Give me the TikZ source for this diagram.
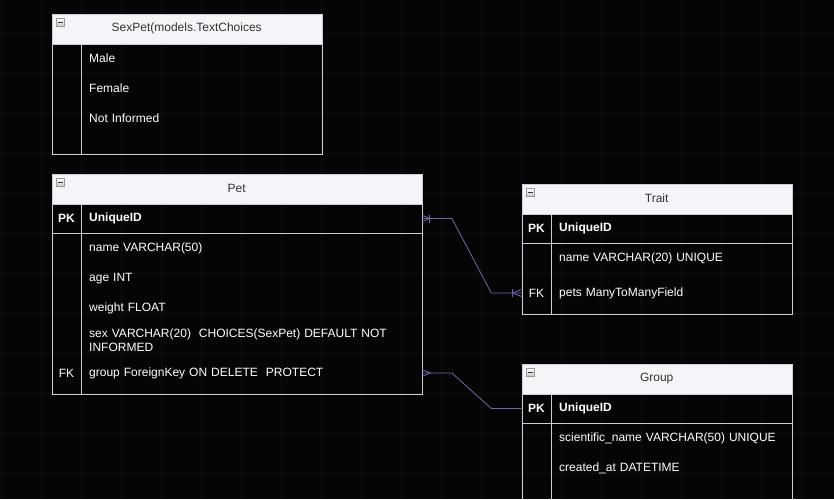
\documentclass[tikz,border=0pt]{standalone}
\usepackage{fontspec}
\setmainfont{Liberation Sans}
\definecolor{bgcol}{RGB}{5,5,5}
\definecolor{gridcol}{RGB}{16,16,16}
\definecolor{edgecol}{RGB}{204,204,218}
\definecolor{headcol}{RGB}{244,245,248}
\definecolor{linkcol}{RGB}{110,104,170}
\begin{document}
\begin{tikzpicture}[x=1pt,y=-1pt,
    header/.style={draw=edgecol,fill=headcol,text=black!80,anchor=north west,minimum height=30pt,inner sep=0pt,font=\fontsize{12}{14}\selectfont},
    body/.style={draw=edgecol,anchor=north west,inner sep=0pt},
    icon/.style={draw=gray!80,top color=white,bottom color=gray!45,minimum size=8pt,inner sep=0pt},
    keycell/.style={text=white,minimum width=30pt,minimum height=30pt,inner sep=0pt,font=\bfseries\fontsize{12}{14}\selectfont},
    fkcell/.style={keycell,font=\fontsize{12}{14}\selectfont},
    field/.style={text=white,anchor=west,inner xsep=7.5pt,inner ysep=0pt,minimum height=30pt,align=left,font=\fontsize{12}{14}\selectfont},
    idfield/.style={field,font=\bfseries\fontsize{12}{14}\selectfont},
    link/.style={linkcol,line width=0.8pt}]
    \fill[bgcol] (0,0) rectangle (834,499);
    \useasboundingbox (0,0) rectangle (834,499);
    \clip (0,0) rectangle (834,499);
    \foreach \gx in {1,41,...,801} \draw[gridcol] (\gx,0) -- (\gx,499);
    \foreach \gy in {33,73,...,473} \draw[gridcol] (0,\gy) -- (834,\gy);

    % SexPet
    \node[header,minimum width=270pt] at (51.5,13.5) (sexhead) {SexPet(models.TextChoices};
    \node[body,minimum width=270pt,minimum height=110pt] at (51.5,43.5) (sexbody) {};
    \node[icon] at ([xshift=9pt,yshift=-9pt]sexhead.north west) (sexicon) {};
    \draw[black!80,line width=1pt] ([xshift=-2.5pt]sexicon.center) -- ([xshift=2.5pt]sexicon.center);
    \draw[edgecol] (81.5,43.5) -- (81.5,153.5);
    \node[field,text width=225pt] at (81.5,58.5) (sexmale) {Male};
    \node[field,text width=225pt] at (81.5,88.5) (sexfemale) {Female};
    \node[field,text width=225pt] at (81.5,118.5) (sexnone) {Not Informed};

    % Pet
    \node[header,minimum width=370pt] at (51.5,173.5) (pethead) {Pet};
    \node[body,minimum width=370pt,minimum height=190pt] at (51.5,203.5) (petbody) {};
    \node[icon] at ([xshift=9pt,yshift=-9pt]pethead.north west) (peticon) {};
    \draw[black!80,line width=1pt] ([xshift=-2.5pt]peticon.center) -- ([xshift=2.5pt]peticon.center);
    \draw[edgecol] (81.5,203.5) -- (81.5,393.5);
    \draw[edgecol] (51.5,233.5) -- (421.5,233.5);
    \node[keycell] at (66.5,218.5) (petpk) {PK};
    \node[idfield,text width=325pt] at (81.5,218.5) (petid) {UniqueID};
    \node[field,text width=325pt] at (81.5,248.5) (petname) {name VARCHAR(50)};
    \node[field,text width=325pt] at (81.5,278.5) (petage) {age INT};
    \node[field,text width=325pt] at (81.5,308.5) (petweight) {weight FLOAT};
    \node[field,text width=325pt] at (81.5,340.5) (petsex) {sex VARCHAR(20)~ CHOICES(SexPet) DEFAULT NOT\\INFORMED};
    \node[fkcell] at (66.5,373) (petfk) {FK};
    \node[field,text width=325pt] at (81.5,373) (petgroup) {group ForeignKey ON DELETE~ PROTECT};

    % Trait
    \node[header,minimum width=270pt] at (521.5,183.5) (traithead) {Trait};
    \node[body,minimum width=270pt,minimum height=100pt] at (521.5,213.5) (traitbody) {};
    \node[icon] at ([xshift=9pt,yshift=-9pt]traithead.north west) (traiticon) {};
    \draw[black!80,line width=1pt] ([xshift=-2.5pt]traiticon.center) -- ([xshift=2.5pt]traiticon.center);
    \draw[edgecol] (551.5,213.5) -- (551.5,313.5);
    \draw[edgecol] (521.5,243.5) -- (791.5,243.5);
    \node[keycell] at (536.5,228.5) (traitpk) {PK};
    \node[idfield,text width=225pt] at (551.5,228.5) (traitid) {UniqueID};
    \node[field,text width=225pt] at (551.5,258.5) (traitname) {name VARCHAR(20) UNIQUE};
    \node[fkcell] at (536.5,293) (traitfk) {FK};
    \node[field,text width=225pt] at (551.5,293) (traitpets) {pets ManyToManyField};

    % Group
    \node[header,minimum width=270pt] at (521.5,363.5) (grouphead) {Group};
    \node[body,minimum width=270pt,minimum height=150pt] at (521.5,393.5) (groupbody) {};
    \node[icon] at ([xshift=9pt,yshift=-9pt]grouphead.north west) (groupicon) {};
    \draw[black!80,line width=1pt] ([xshift=-2.5pt]groupicon.center) -- ([xshift=2.5pt]groupicon.center);
    \draw[edgecol] (551.5,393.5) -- (551.5,543.5);
    \draw[edgecol] (521.5,423.5) -- (791.5,423.5);
    \node[keycell] at (536.5,408.5) (grouppk) {PK};
    \node[idfield,text width=225pt] at (551.5,408.5) (groupid) {UniqueID};
    \node[field,text width=225pt] at (551.5,438.5) (groupsci) {scientific\_name VARCHAR(50) UNIQUE};
    \node[field,text width=225pt] at (551.5,468.5) (groupdate) {created\_at DATETIME};

    % links
    \draw[link] (petid.east) -- ++(30,0) -- ([xshift=-30pt]traitfk.west) -- (traitfk.west);
    \draw[link] ([yshift=3.5pt]petid.east) -- ([xshift=7.5pt]petid.east) -- ([yshift=-3.5pt]petid.east);
    \draw[link] ([xshift=7.5pt,yshift=4pt]petid.east) -- ([xshift=7.5pt,yshift=-4pt]petid.east);
    \draw[link] ([yshift=3.5pt]traitfk.west) -- ([xshift=-8.5pt]traitfk.west) -- ([yshift=-3.5pt]traitfk.west);
    \draw[link] ([xshift=-8.5pt,yshift=4pt]traitfk.west) -- ([xshift=-8.5pt,yshift=-4pt]traitfk.west);
    \draw[link] (petgroup.east) -- ++(30,0) -- ([xshift=-30pt]grouppk.west) -- (grouppk.west);
    \draw[link] ([yshift=3.5pt]petgroup.east) -- ([xshift=8.5pt]petgroup.east) -- ([yshift=-3.5pt]petgroup.east);
\end{tikzpicture}
\end{document}
